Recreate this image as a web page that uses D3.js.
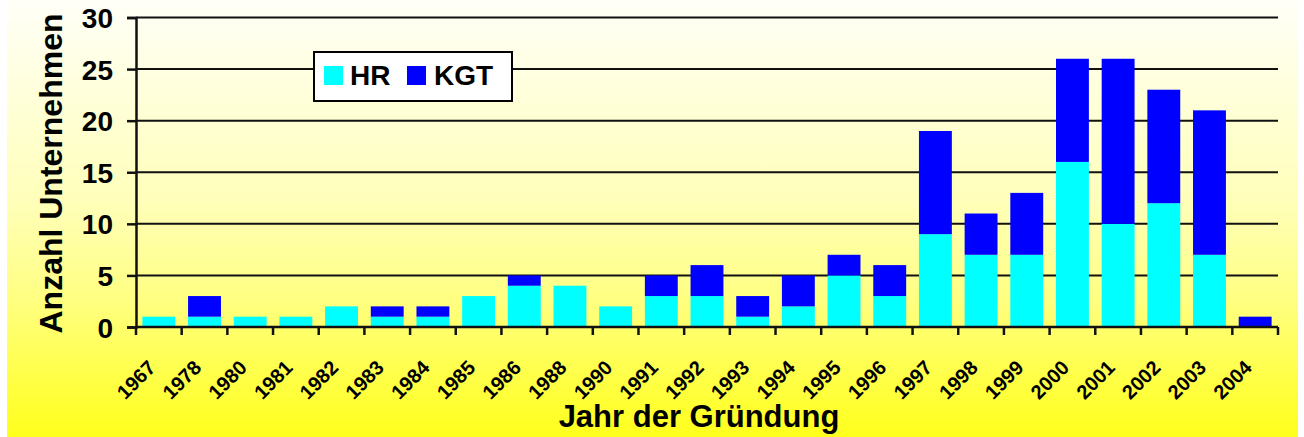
<!DOCTYPE html>
<html><head><meta charset="utf-8">
<script src="https://cdn.jsdelivr.net/npm/d3@7"></script>
<style>html,body{margin:0;padding:0;background:#fff;}svg{display:block;}</style>
</head><body>
<script>
const years = ["1967","1978","1980","1981","1982","1983","1984","1985","1986","1988","1990","1991","1992","1993","1994","1995","1996","1997","1998","1999","2000","2001","2002","2003","2004"];
const hr  = [1,1,1,1,2,1,1,3,4,4,2,3,3,1,2,5,3,9,7,7,16,10,12,7,0];
const kgt = [0,2,0,0,0,1,1,0,1,0,0,2,3,2,3,2,3,10,4,6,10,16,11,14,1];
const yTicks = [0,5,10,15,20,25,30];
const seriesNames = ["HR","KGT"];
const colors = ["#00FFFF","#0000FF"];

const W = 1304, H = 437;
const font = "'Liberation Sans', Arial, sans-serif";
const svg = d3.select("body").append("svg").attr("width", W).attr("height", H);

const defs = svg.append("defs");
const grad = defs.append("linearGradient").attr("id","bg").attr("x1",0).attr("y1",0).attr("x2",0).attr("y2",1);
[[0,"#FFFFF8"],[0.46,"#FFFFBA"],[0.69,"#FFFF80"],[1,"#FFFF1C"]].forEach(s=>grad.append("stop").attr("offset",s[0]).attr("stop-color",s[1]));
svg.append("rect").attr("x",7).attr("y",0).attr("width",1291).attr("height",H).attr("fill","url(#bg)");

const x = d3.scaleBand().domain(years).range([136,1278]).paddingInner(0.28).paddingOuter(0.14);
const y = d3.scaleLinear().domain([0,30]).range([327,17.5]);

// gridlines
svg.append("g").selectAll("line").data(yTicks.filter(t=>t>0)).join("line")
  .attr("x1",136).attr("x2",1278).attr("y1",d=>y(d)).attr("y2",d=>y(d))
  .attr("stroke","#111").attr("stroke-width",2);

// stacked bars
const data = years.map((yr,i)=>({year:yr, HR:hr[i], KGT:kgt[i]}));
const stack = d3.stack().keys(seriesNames)(data);
svg.append("g").selectAll("g").data(stack).join("g").attr("fill",(d,i)=>colors[i])
  .selectAll("rect").data(d=>d).join("rect")
  .attr("x",d=>x(d.data.year)).attr("width",x.bandwidth())
  .attr("y",d=>y(d[1])).attr("height",d=>y(d[0])-y(d[1]));

// y axis
const yAxis = d3.axisLeft(y).tickValues(yTicks).tickSize(9).tickPadding(14);
const gy = svg.append("g").attr("transform","translate(136,0)").call(yAxis);
gy.select(".domain").attr("stroke","#111").attr("stroke-width",2.5);
gy.selectAll(".tick line").attr("stroke","#111").attr("stroke-width",2.5);
gy.selectAll(".tick text").attr("font-family",font).attr("font-size",28).attr("font-weight","bold").attr("fill","#000").attr("dy","0.36em").attr("x",-23);

// x axis
const boundaries = years.map(d=>x(d)-x.step()*x.paddingInner()/2).concat([1278]);
svg.append("line").attr("x1",136).attr("x2",1278).attr("y1",327).attr("y2",327).attr("stroke","#111").attr("stroke-width",2.5);
svg.append("g").selectAll("line").data(boundaries).join("line")
  .attr("x1",d=>d).attr("x2",d=>d).attr("y1",327).attr("y2",335).attr("stroke","#111").attr("stroke-width",2.5);
svg.append("g").selectAll("text").data(years).join("text")
  .attr("transform",d=>`translate(${x(d)+x.bandwidth()/2-2},369) rotate(-45)`)
  .attr("text-anchor","end").attr("font-family",font).attr("font-size",20).attr("font-weight","bold").text(d=>d);

// axis titles
svg.append("text").attr("transform","translate(62,173.5) rotate(-90)").attr("text-anchor","middle")
  .attr("font-family",font).attr("font-size",32).attr("font-weight","bold").text("Anzahl Unternehmen");
svg.append("text").attr("x",699).attr("y",427).attr("text-anchor","middle")
  .attr("font-family",font).attr("font-size",31).attr("font-weight","bold").text("Jahr der Gründung");

// legend
const lg = svg.append("g");
lg.append("rect").attr("x",314).attr("y",52).attr("width",198).attr("height",49).attr("fill","#fff").attr("stroke","#000").attr("stroke-width",2);
const lx = [324,407], tx = [350,434];
seriesNames.forEach((n,i)=>{
  lg.append("rect").attr("x",lx[i]).attr("y",66).attr("width",19).attr("height",19).attr("fill",colors[i]);
  lg.append("text").attr("x",tx[i]).attr("y",85).attr("font-family",font).attr("font-size",28).attr("font-weight","bold").text(n);
});
</script>
</body></html>
